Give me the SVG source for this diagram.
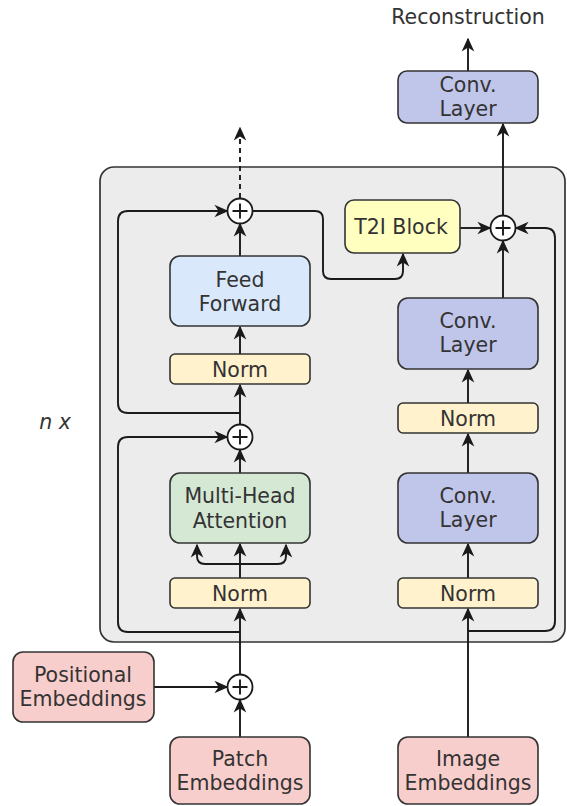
<svg xmlns="http://www.w3.org/2000/svg" width="567" height="806" viewBox="0 0 567 806">
<style>
text{font-family:"DejaVu Sans","Verdana",sans-serif;font-size:20.5px;fill:#333;text-anchor:middle}
.box{stroke:#333;stroke-width:1.6}
.c{fill:none;stroke:#1a1a1a;stroke-width:1.9;marker-end:url(#ah)}
.p{fill:#fff;stroke:#1a1a1a;stroke-width:1.8}
</style>
<defs>
<marker id="ah" viewBox="0 0 10 10" refX="9" refY="5" markerWidth="14" markerHeight="14" markerUnits="userSpaceOnUse" orient="auto">
<path d="M0,0.5 L10,5 L0,9.5 L3,5 z" fill="#1a1a1a"/>
</marker>
<g id="plusSym"><circle r="12.5" class="p"/><path d="M-7.5,0 H7.5 M0,-7.5 V7.5" stroke="#1a1a1a" stroke-width="1.9"/></g>
</defs>
<rect id="container" x="100" y="167" width="465" height="475" rx="14" fill="#ececec" stroke="#333" stroke-width="1.7"/>
<text x="55" y="429" style="font-style:italic">n x</text>
<g id="connectors">
<path class="c" d="M240,737 V700"/>
<path class="c" d="M154,687 H227"/>
<path class="c" d="M240,674 V609"/>
<path class="c" d="M240,578 V544"/>
<path class="c" d="M240,564 H205 Q197,564 197,556 V545"/>
<path class="c" d="M240,564 H278 Q286,564 286,556 V545"/>
<path class="c" d="M240,473 V450"/>
<path class="c" d="M240,632 H128 Q118,632 118,622 V447 Q118,437 128,437 H227"/>
<path class="c" d="M240,424 V385"/>
<path class="c" d="M240,413 H128 Q118,413 118,403 V221 Q118,211 128,211 H227"/>
<path class="c" d="M240,354 V327"/>
<path class="c" d="M240,256 V224"/>
<path class="c" d="M240,198 V128" stroke-dasharray="5,4"/>
<path class="c" d="M253,211 H315 Q323,211 323,219 V271 Q323,279 331,279 H395 Q403,279 403,271 V254"/>
<path class="c" d="M460,228 H490"/>
<path class="c" d="M468,737 V609"/>
<path class="c" d="M468,631 H545 Q555,631 555,621 V238 Q555,228 545,228 H516"/>
<path class="c" d="M468,578 V544"/>
<path class="c" d="M468,473 V434"/>
<path class="c" d="M468,403 V370"/>
<path class="c" d="M503,298 V241"/>
<path class="c" d="M503,215 V124"/>
<path class="c" d="M468,71 V39"/>
</g>
<g id="plus-bottom"><use href="#plusSym" x="240" y="687"/></g>
<g id="plus-mid"><use href="#plusSym" x="240" y="437"/></g>
<g id="plus-top"><use href="#plusSym" x="240" y="211"/></g>
<g id="plus-right"><use href="#plusSym" x="503" y="228"/></g>
<g id="pos-emb"><rect class="box" x="13" y="652" width="141" height="70" rx="10" fill="#f8cecc"/><text x="83" y="682">Positional</text><text x="83" y="706">Embeddings</text></g>
<g id="patch-emb"><rect class="box" x="170" y="737" width="140" height="67" rx="10" fill="#f8cecc"/><text x="240" y="766">Patch</text><text x="240" y="790">Embeddings</text></g>
<g id="image-emb"><rect class="box" x="398" y="737" width="140" height="67" rx="10" fill="#f8cecc"/><text x="468" y="766">Image</text><text x="468" y="790">Embeddings</text></g>
<g id="norm-l1"><rect class="box" x="170" y="578" width="140" height="30" rx="5" fill="#fff2cc"/><text x="240" y="601">Norm</text></g>
<g id="mha"><rect class="box" x="170" y="473" width="140" height="70" rx="10" fill="#d5e8d4"/><text x="240" y="503">Multi-Head</text><text x="240" y="528">Attention</text></g>
<g id="norm-l2"><rect class="box" x="170" y="354" width="140" height="30" rx="5" fill="#fff2cc"/><text x="240" y="377">Norm</text></g>
<g id="ff"><rect class="box" x="170" y="256" width="140" height="70" rx="10" fill="#dae8fc"/><text x="240" y="287">Feed</text><text x="240" y="311">Forward</text></g>
<g id="t2i"><rect class="box" x="345" y="200" width="115" height="53" rx="9" fill="#ffffc0"/><text x="401" y="234">T2I Block</text></g>
<g id="norm-r1"><rect class="box" x="398" y="578" width="140" height="30" rx="5" fill="#fff2cc"/><text x="468" y="601">Norm</text></g>
<g id="conv-r1"><rect class="box" x="398" y="473" width="140" height="70" rx="10" fill="#c0c5ea"/><text x="468" y="503">Conv.</text><text x="468" y="527">Layer</text></g>
<g id="norm-r2"><rect class="box" x="398" y="403" width="140" height="30" rx="5" fill="#fff2cc"/><text x="468" y="426">Norm</text></g>
<g id="conv-r2"><rect class="box" x="398" y="298" width="140" height="71" rx="10" fill="#c0c5ea"/><text x="468" y="328">Conv.</text><text x="468" y="352">Layer</text></g>
<g id="conv-top"><rect class="box" x="398" y="71" width="140" height="52" rx="9" fill="#c0c5ea"/><text x="468" y="92">Conv.</text><text x="468" y="115.5">Layer</text></g>
<text x="468" y="24">Reconstruction</text>
</svg>
